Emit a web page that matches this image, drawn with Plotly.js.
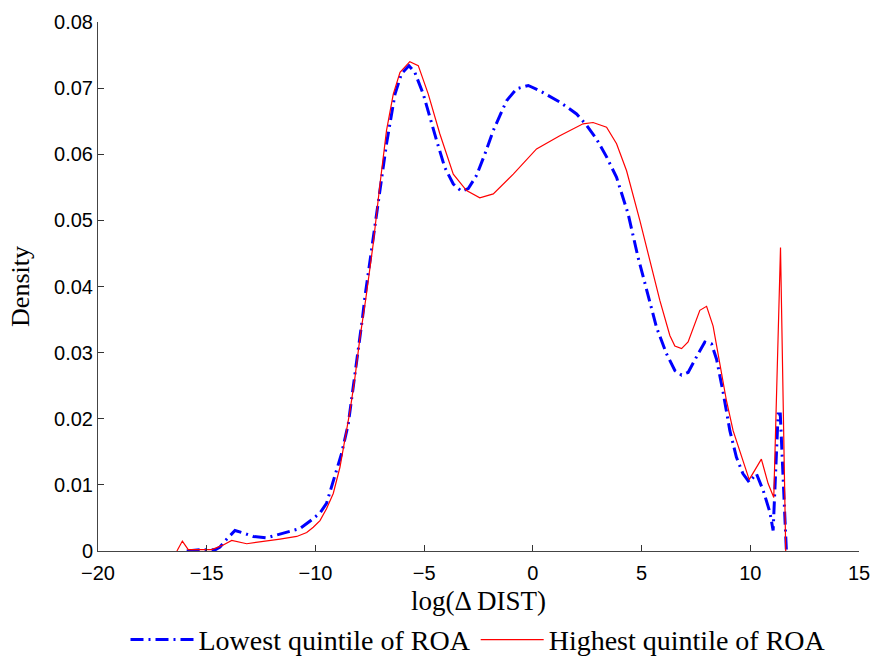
<!DOCTYPE html>
<html>
<head>
<meta charset="utf-8">
<script src="https://cdn.plot.ly/plotly-3.0.1.min.js"></script>
<style>html,body{margin:0;padding:0;background:#fff;}#chart{width:876px;height:658px;}</style>
</head>
<body>
<div id="chart"></div>
<script>
// Lowest quintile of ROA
const lowX = [-15.92, -15.3, -14.6, -14.39, -14.08, -13.7, -13.3, -12.86, -12.24, -11.32, -10.71, -10.1, -9.78, -9.49, -9.26, -9.03, -8.8, -8.49, -8.26, -8.03, -7.83, -7.72, -7.19, -6.73, -6.34, -6.04, -5.7, -5.43, -5.04, -4.74, -4.43, -4.05, -3.66, -3.28, -2.97, -2.59, -2.21, -1.82, -1.21, -0.75, -0.21, 0.32, 1.24, 2.01, 2.47, 2.93, 3.39, 3.85, 4.38, 4.84, 5.23, 5.69, 6.15, 6.53, 6.84, 7.14, 7.6, 7.91, 8.22, 8.45, 8.75, 9.06, 9.36, 9.66, 9.95, 10.28, 10.59, 10.9, 11.05, 11.28, 11.38, 11.66];
const lowY = [0, 0.0002, 0.0002, 0.0006, 0.0018, 0.0031, 0.0027, 0.0022, 0.0020, 0.0028, 0.0034, 0.0049, 0.0058, 0.0072, 0.0097, 0.0121, 0.0147, 0.0192, 0.0248, 0.0298, 0.0354, 0.0385, 0.0505, 0.0616, 0.0691, 0.0722, 0.0734, 0.0724, 0.0691, 0.0656, 0.0621, 0.0580, 0.0555, 0.0544, 0.0548, 0.0568, 0.0600, 0.0636, 0.0681, 0.0699, 0.0704, 0.0696, 0.0679, 0.0661, 0.0644, 0.0623, 0.0596, 0.0565, 0.0510, 0.0444, 0.0394, 0.0338, 0.0298, 0.0273, 0.0266, 0.0270, 0.0298, 0.0316, 0.0313, 0.0290, 0.0240, 0.0182, 0.0142, 0.0117, 0.0104, 0.0117, 0.0092, 0.0059, 0.0031, 0.0207, 0.0207, 0];

// Highest quintile of ROA
const highX = [-16.37, -16.12, -15.85, -15.4, -14.77, -14.24, -13.85, -13.16, -12.4, -11.63, -10.86, -10.4, -10.1, -9.79, -9.49, -9.18, -8.87, -8.64, -8.41, -8.18, -7.95, -7.69, -7.34, -7.03, -6.73, -6.42, -6.11, -5.66, -5.27, -4.81, -4.28, -3.66, -3.05, -2.44, -1.82, -0.9, 0.17, 1.24, 2.31, 2.77, 3.39, 3.85, 4.31, 4.92, 5.38, 5.84, 6.3, 6.53, 6.84, 7.14, 7.68, 7.99, 8.29, 8.6, 8.9, 9.21, 9.6, 9.95, 10.51, 10.82, 11.08, 11.39, 11.63];
const highY = [0, 0.0015, 0.0002, 0.0002, 0.0002, 0.0009, 0.0016, 0.0011, 0.0014, 0.0018, 0.0022, 0.0028, 0.0036, 0.0046, 0.0064, 0.0087, 0.0127, 0.0167, 0.0212, 0.0263, 0.0323, 0.0380, 0.0465, 0.0555, 0.0636, 0.0691, 0.0724, 0.0740, 0.0734, 0.0691, 0.0631, 0.0570, 0.0545, 0.0534, 0.0540, 0.0570, 0.0608, 0.0628, 0.0646, 0.0648, 0.0641, 0.0616, 0.0575, 0.0500, 0.0439, 0.0379, 0.0326, 0.0310, 0.0306, 0.0316, 0.0364, 0.0370, 0.0340, 0.0283, 0.0228, 0.0182, 0.0142, 0.0108, 0.0139, 0.0102, 0.0081, 0.0459, 0];

const seriesNames = ["Lowest quintile of ROA", "Highest quintile of ROA"];
const xTicks = [-20, -15, -10, -5, 0, 5, 10, 15];
const yTicks = [0, 0.01, 0.02, 0.03, 0.04, 0.05, 0.06, 0.07, 0.08];

const serif = "Liberation Serif, Times New Roman, serif";
const sans = "Liberation Sans, Arial, sans-serif";

const traces = [
  {x: lowX, y: lowY, name: seriesNames[0], mode: "lines", type: "scatter",
   line: {color: "#0000ff", width: 3, dash: "13px,5px,2px,5px"}},
  {x: highX, y: highY, name: seriesNames[1], mode: "lines", type: "scatter",
   line: {color: "#ff0000", width: 1.2}}
];

const layout = {
  width: 876, height: 658,
  margin: {l: 98, r: 17, t: 22, b: 107, autoexpand: false},
  paper_bgcolor: "#fff", plot_bgcolor: "#fff",
  showlegend: true,
  legend: {orientation: "h", x: 0.5, xanchor: "center", y: -0.168, yanchor: "middle",
           font: {family: serif, size: 28, color: "#000"}, itemwidth: 63,
           bgcolor: "rgba(0,0,0,0)"},
  xaxis: {range: [-20, 15], tickvals: xTicks, ticks: "inside", ticklen: 6, tickcolor: "#333",
          showline: true, linecolor: "#444", linewidth: 1, showgrid: false, zeroline: false, automargin: false,
          ticklabelstandoff: 4,
          tickfont: {family: sans, size: 20, color: "#000"},
          title: {text: "log(Δ DIST)", font: {family: serif, size: 27, color: "#000"}, standoff: 8}},
  yaxis: {range: [0, 0.08], tickvals: yTicks, ticks: "inside", ticklen: 6, tickcolor: "#333",
          showline: true, linecolor: "#444", linewidth: 1, showgrid: false, zeroline: false, automargin: false,
          tickfont: {family: sans, size: 20, color: "#000"},
          title: {text: "Density", font: {family: serif, size: 26, color: "#000"}, standoff: 16}}
};

Plotly.newPlot("chart", traces, layout, {displayModeBar: false, staticPlot: true});
</script>
</body>
</html>
